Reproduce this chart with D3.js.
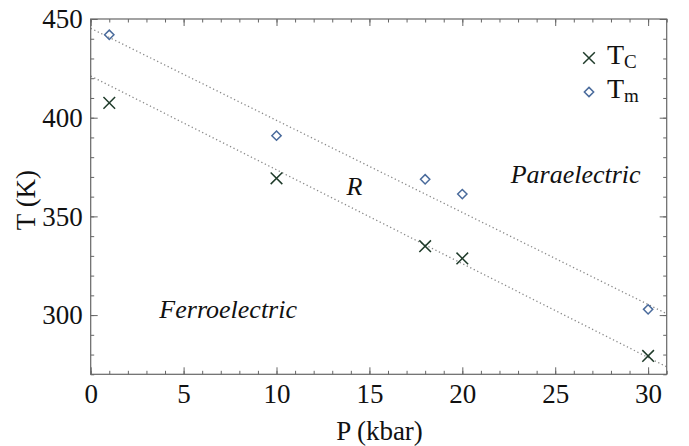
<!DOCTYPE html>
<html>
<head>
<meta charset="utf-8">
<script src="https://cdn.jsdelivr.net/npm/d3@7"></script>
<style>
  html, body { margin: 0; padding: 0; background: #fff; }
  svg { display: block; }
</style>
</head>
<body>
<svg id="chart" width="689" height="446"></svg>
<script>
// ---- data ----
const pressure = [1, 10, 18, 20, 30];
const tcValues = [407.5, 369.3, 334.9, 328.7, 279.3];
const tmValues = [442.0, 390.9, 368.8, 361.3, 302.9];
const linePressure = [0, 31];
const tcLine = [421.1, 273.8];
const tmLine = [445.3, 300.7];
const xTicks = [0, 5, 10, 15, 20, 25, 30];
const yTicks = [300, 350, 400, 450];
const xMinor = d3.range(0, 32, 1);
const yMinor = d3.range(270, 451, 10);
const legendLabels = [{base: "T", sub: "C"}, {base: "T", sub: "m"}];
const regionLabels = [
  {text: "Paraelectric", p: 26.1, t: 366.9},
  {text: "R", p: 14.2, t: 360.8},
  {text: "Ferroelectric", p: 7.4, t: 298.5}
];

// ---- layout ----
const FONT = "Liberation Serif";
const svg = d3.select("#chart");
const mLeft = 90.7, mRight = 666.7, mTop = 19, mBottom = 374.3;
const x = d3.scaleLinear().domain([0, 31]).range([mLeft, mRight]);
const y = d3.scaleLinear().domain([270, 450]).range([mBottom, mTop]);

const frameColor = "#666";
const tcColor = "#1f3b2a";
const tmColor = "#4a6b9c";

// clip
svg.append("defs").append("clipPath").attr("id", "clip")
  .append("rect").attr("x", mLeft - 3).attr("y", mTop).attr("width", mRight - mLeft + 3).attr("height", mBottom - mTop + 4);

// dotted guide lines
const lineGen = d3.line().x(d => x(d[0])).y(d => y(d[1]));
[tcLine, tmLine].forEach(vals => {
  svg.append("path")
    .attr("clip-path", "url(#clip)")
    .attr("d", lineGen(linePressure.map((p, i) => [p, vals[i]])))
    .attr("fill", "none")
    .attr("stroke", "#8a8a8a")
    .attr("stroke-width", 1.3)
    .attr("stroke-dasharray", "1.3,2.6");
});

// axes
function styleAxis(g) {
  g.select(".domain").remove();
  g.selectAll(".tick line").attr("stroke", frameColor).attr("stroke-width", 1);
  g.selectAll(".tick text").attr("fill", "#111")
    .style("font-family", `"${FONT}"`).style("font-size", "27px");
}
// bottom
svg.append("g").attr("transform", `translate(0,${mBottom})`)
  .call(d3.axisBottom(x).tickValues(xMinor).tickSize(-3.5).tickFormat("")).call(styleAxis);
svg.append("g").attr("transform", `translate(0,${mBottom})`)
  .call(d3.axisBottom(x).tickValues(xTicks).tickSize(-7).tickPadding(10).tickFormat(d3.format("d"))).call(styleAxis);
// top
svg.append("g").attr("transform", `translate(0,${mTop})`)
  .call(d3.axisTop(x).tickValues(xMinor).tickSize(-3.5).tickFormat("")).call(styleAxis);
svg.append("g").attr("transform", `translate(0,${mTop})`)
  .call(d3.axisTop(x).tickValues(xTicks).tickSize(-7).tickFormat("")).call(styleAxis);
// left
svg.append("g").attr("transform", `translate(${mLeft},0)`)
  .call(d3.axisLeft(y).tickValues(yMinor).tickSize(-3.5).tickFormat("")).call(styleAxis);
svg.append("g").attr("transform", `translate(${mLeft},0)`)
  .call(d3.axisLeft(y).tickValues(yTicks).tickSize(-7).tickPadding(8).tickFormat(d3.format("d"))).call(styleAxis);
// right
svg.append("g").attr("transform", `translate(${mRight},0)`)
  .call(d3.axisRight(y).tickValues(yMinor).tickSize(-3.5).tickFormat("")).call(styleAxis);
svg.append("g").attr("transform", `translate(${mRight},0)`)
  .call(d3.axisRight(y).tickValues(yTicks).tickSize(-7).tickFormat("")).call(styleAxis);

// frame
svg.append("rect").attr("x", mLeft).attr("y", mTop)
  .attr("width", mRight - mLeft).attr("height", mBottom - mTop)
  .attr("fill", "none").attr("stroke", frameColor).attr("stroke-width", 1.2);

// axis titles
svg.append("text").attr("x", 379.5).attr("y", 440)
  .attr("text-anchor", "middle").attr("fill", "#111")
  .style("font-family", `"${FONT}"`).style("font-size", "27px").text("P (kbar)");
svg.append("text").attr("transform", "translate(35,200) rotate(-90)")
  .attr("text-anchor", "middle").attr("fill", "#111")
  .style("font-family", `"${FONT}"`).style("font-size", "27px").text("T (K)");

// markers
const xSym = d3.symbol().type(d3.symbolX).size(90);
const dSym = d3.symbol().type(d3.symbolDiamond2).size(55);
svg.append("g").selectAll("path").data(pressure.map((p, i) => [p, tcValues[i]]))
  .join("path")
  .attr("transform", d => `translate(${x(d[0])},${y(d[1])})`)
  .attr("d", xSym).attr("fill", "none").attr("stroke", tcColor).attr("stroke-width", 1.5);
svg.append("g").selectAll("path").data(pressure.map((p, i) => [p, tmValues[i]]))
  .join("path")
  .attr("transform", d => `translate(${x(d[0])},${y(d[1])})`)
  .attr("d", dSym).attr("fill", "none").attr("stroke", tmColor).attr("stroke-width", 1.5);

// region labels
regionLabels.forEach(r => {
  svg.append("text").attr("x", x(r.p)).attr("y", y(r.t))
    .attr("text-anchor", "middle").attr("fill", "#111")
    .style("font-family", `"${FONT}"`).style("font-size", "26px").style("font-style", "italic")
    .text(r.text);
});

// legend
const legend = svg.append("g");
const legendY = [58, 92];
legendLabels.forEach((l, i) => {
  const ly = legendY[i];
  legend.append("path").attr("transform", `translate(589,${ly})`)
    .attr("d", i === 0 ? xSym : dSym).attr("fill", "none")
    .attr("stroke", i === 0 ? tcColor : tmColor).attr("stroke-width", 1.5);
  const t = legend.append("text").attr("x", 607).attr("y", ly + 6).attr("fill", "#111")
    .style("font-family", `"${FONT}"`).style("font-size", "28px");
  t.append("tspan").text(l.base);
  t.append("tspan").attr("dy", 4).style("font-size", "19px").text(l.sub);
});
</script>
</body>
</html>
